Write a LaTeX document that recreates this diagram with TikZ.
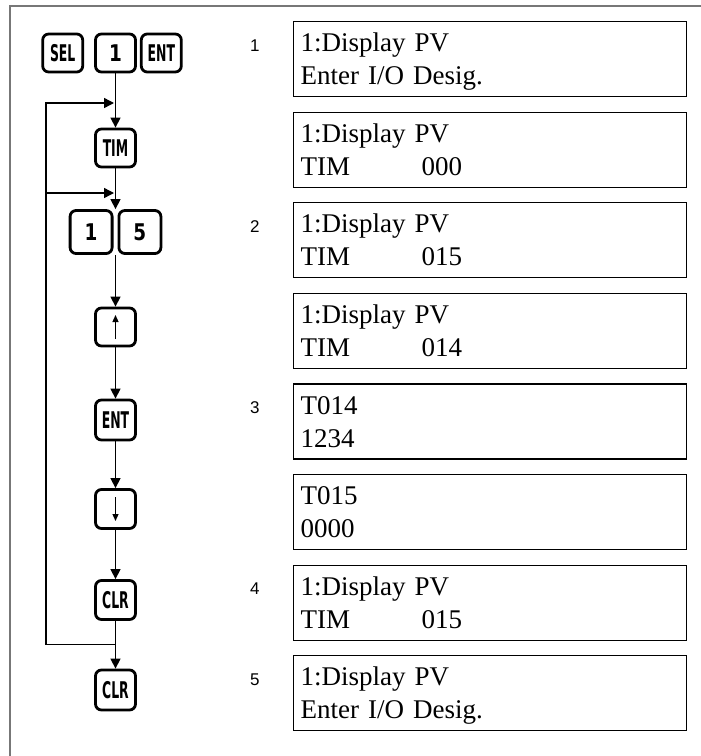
\documentclass[tikz,border=0pt]{standalone}
\usepackage{graphicx}
\usepackage{fontspec}
\setmainfont{Liberation Serif}
\setsansfont{Liberation Sans}
\newfontfamily\keyfont{DejaVu Sans}
\usepackage{tikz}
\usetikzlibrary{positioning, arrows.meta, calc}
\definecolor{framegray}{HTML}{777777}

\newcommand{\narrow}[1]{\scalebox{0.54}[1]{#1}}
\newcommand{\lcdstrut}{\rule[-7.5pt]{0pt}{33pt}}
\newcommand{\lcd}[2]{\lcdstrut#1\\\lcdstrut#2}
\newcommand{\timval}[1]{\makebox[121pt][l]{TIM}#1}

\tikzset{
  keybtn/.style={draw, line width=2.8pt, rounded corners=6pt,
    minimum width=40pt, minimum height=38pt, inner sep=0pt,
    font=\keyfont\bfseries\fontsize{23}{23}\selectfont},
  bignum/.style={minimum width=42pt, minimum height=43pt,
    font=\keyfont\bfseries\fontsize{23}{23}\selectfont},
  display/.style={draw, line width=1.2pt, minimum width=393pt, minimum height=75pt,
    text width=379pt, inner xsep=7pt, inner ysep=0pt, align=left,
    font=\fontsize{27}{33}\selectfont, anchor=north west},
  steplabel/.style={anchor=base west, inner sep=0pt,
    font=\sffamily\fontsize{17}{17}\selectfont},
  flow/.style={line width=1.4pt, -{Triangle[length=10pt,width=10pt]}},
  keyarrow/.style={line width=1.2pt, -{Triangle[length=7pt,width=6pt]}},
  frameline/.style={framegray, line width=1.4pt}
}

\begin{document}
\begin{tikzpicture}[x=1pt, y=-1pt]
  \useasboundingbox (0,0) rectangle (701,756);
  \draw[frameline] (10,756) -- (10,6) -- (701,6);

  % key sequence
  \node[keybtn] (one) at (115.5,53) {\scalebox{0.8}[1]{1}};
  \node[keybtn, left=10pt of one] (sel) {\narrow{SEL}};
  \node[keybtn, right=3pt of one] (entA) {\narrow{ENT}};
  \node[keybtn] (tim) at (115.5,148) {\narrow{TIM}};
  \node[keybtn, bignum, anchor=east] (oneB) at (113.5,232) {\scalebox{0.8}[1]{1}};
  \node[keybtn, bignum, anchor=west] (five) at (117.5,232) {\scalebox{0.8}[1]{5}};
  \node[keybtn] (up) at (115.5,327) {};
  \node[keybtn, minimum height=40pt] (entB) at (115.5,420) {\narrow{ENT}};
  \node[keybtn, minimum height=39pt] (down) at (115.5,509) {};
  \node[keybtn, minimum height=39pt] (clrA) at (115.5,600) {\narrow{CLR}};
  \node[keybtn, minimum height=40pt] (clrB) at (115.5,690) {\narrow{CLR}};
  \draw[keyarrow] ($(up.center)+(0,12)$) -- ($(up.center)+(0,-12)$);
  \draw[keyarrow] ($(down.center)+(0,-12)$) -- ($(down.center)+(0,12)$);

  % connectors
  \coordinate (gapN) at ($(oneB.north east)!0.5!(five.north west)$);
  \coordinate (gapS) at ($(oneB.south east)!0.5!(five.south west)$);
  \coordinate (split) at ($(clrA.south)!0.5!(clrB.north)$);
  \coordinate (railTop) at (46,103);
  \coordinate (railMid) at (46,193);
  \coordinate (backA) at (114,103);
  \coordinate (backB) at (114,193);
  \draw[flow] (one) -- (tim);
  \draw[flow] (tim) -- (gapN);
  \draw[flow] (gapS) -- (up);
  \draw[flow] (up) -- (entB);
  \draw[flow] (entB) -- (down);
  \draw[flow] (down) -- (clrA);
  \draw[flow] (clrA) -- (clrB);
  \draw[flow] (split) -| (railTop) -- (backA);
  \draw[flow] (railMid) -- (backB);

  % displays
  \node[display] (disp1) at (293,21) {\lcd{1:Display PV}{Enter I/O Desig.}};
  \node[display, below=14.4pt of disp1] (disp2) {\lcd{1:Display PV}{\timval{000}}};
  \node[display, below=14.4pt of disp2] (disp3) {\lcd{1:Display PV}{\timval{015}}};
  \node[display, below=14.4pt of disp3] (disp4) {\lcd{1:Display PV}{\timval{014}}};
  \node[display, below=14.4pt of disp4] (disp5) {\lcd{T014}{1234}};
  \node[display, below=14.4pt of disp5] (disp6) {\lcd{T015}{0000}};
  \node[display, below=14.4pt of disp6] (disp7) {\lcd{1:Display PV}{\timval{015}}};
  \node[display, below=14.4pt of disp7] (disp8) {\lcd{1:Display PV}{Enter I/O Desig.}};

  % step numbers
  \node[steplabel] (step1) at ($(disp1.north west)+(-43,30)$) {1};
  \node[steplabel] (step2) at ($(disp3.north west)+(-43,30)$) {2};
  \node[steplabel] (step3) at ($(disp5.north west)+(-43,30)$) {3};
  \node[steplabel] (step4) at ($(disp7.north west)+(-43,30)$) {4};
  \node[steplabel] (step5) at ($(disp8.north west)+(-43,30)$) {5};
\end{tikzpicture}
\end{document}
